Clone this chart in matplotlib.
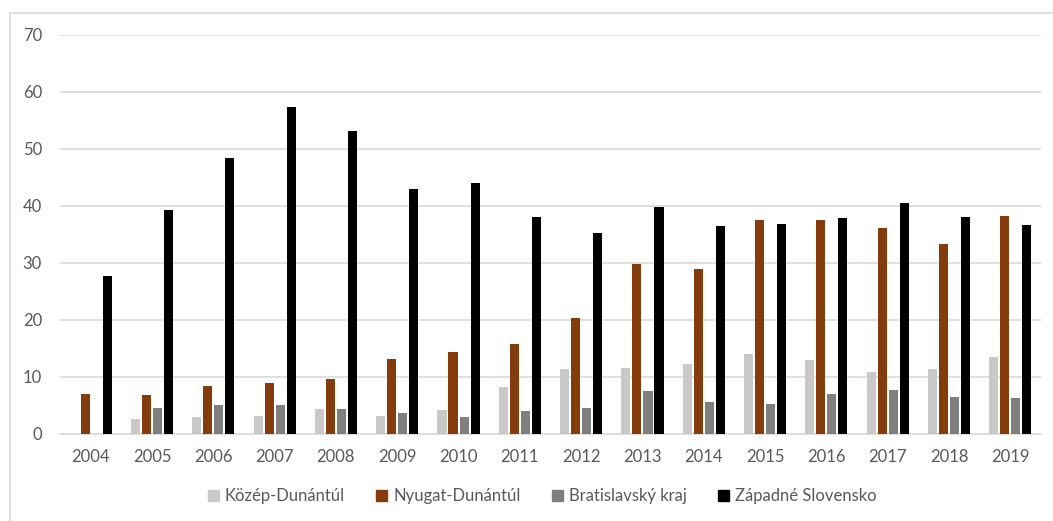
import matplotlib
matplotlib.use("Agg")
import matplotlib.pyplot as plt
import numpy as np
from matplotlib.lines import Line2D
from matplotlib.patches import Patch

years = ["2004", "2005", "2006", "2007", "2008", "2009", "2010", "2011",
         "2012", "2013", "2014", "2015", "2016", "2017", "2018", "2019"]
kozep_dunantul = [0, 2.6, 3.0, 3.2, 4.3, 3.2, 4.2, 8.2, 11.4, 11.6, 12.2, 14.1, 12.9, 10.9, 11.4, 13.5]
nyugat_dunantul = [7.0, 6.8, 8.4, 9.0, 9.7, 13.1, 14.3, 15.7, 20.4, 29.9, 28.9, 37.6, 37.6, 36.1, 33.3, 38.3]
bratislavsky = [0, 4.6, 5.1, 5.1, 4.3, 3.7, 2.9, 4.0, 4.6, 7.5, 5.6, 5.2, 7.1, 7.8, 6.5, 6.3]
zapadne = [27.7, 39.3, 48.4, 57.3, 53.2, 42.9, 44.1, 38.1, 35.2, 39.9, 36.4, 36.9, 37.8, 40.5, 38.1, 36.6]

series_names = ["Közép-Dunántúl", "Nyugat-Dunántúl", "Bratislavský kraj", "Západné Slovensko"]
series_values = [kozep_dunantul, nyugat_dunantul, bratislavsky, zapadne]
colors = ["#C9C9C9", "#843C0C", "#7F7F7F", "#000000"]

plt.rcParams['font.family'] = ['Lato', 'DejaVu Sans']

fig = plt.figure(figsize=(10.53, 5.21), dpi=100)
ax = fig.add_axes([0.057, 0.167, 0.9316, 0.766])

x = np.arange(len(years))
width = 0.148
step = 0.18
for i, (vals, c) in enumerate(zip(series_values, colors)):
    ax.bar(x + (i - 1.5) * step, vals, width=width, color=c, zorder=3)

ax.set_xlim(-0.5, len(years) - 0.5)
ax.set_ylim(0, 70)
ax.set_yticks(range(0, 71, 10))
ax.set_xticks(x)
ax.set_xticklabels(years)
ax.yaxis.grid(True, color="#D9D9D9", linewidth=1.2, zorder=0)
ax.set_axisbelow(True)
for s in ["top", "right", "left"]:
    ax.spines[s].set_visible(False)
ax.spines["bottom"].set_color("#D9D9D9")
ax.spines["bottom"].set_linewidth(1.2)
ax.tick_params(axis="both", length=0, labelsize=12, colors="#595959")
ax.tick_params(axis="x", pad=11)
ax.tick_params(axis="y", pad=13)

handles = [Patch(facecolor=c, edgecolor=c) for c in colors]
fig.legend(handles, series_names, loc="center", bbox_to_anchor=(0.515, 0.048),
           ncol=4, frameon=False, fontsize=12, labelcolor="#595959",
           handlelength=0.65, handleheight=0.65, handletextpad=0.35, columnspacing=1.9)

# outer chart frame (top and left visible)
fig.add_artist(Line2D([10 / 1053, 1.0], [1 - 13 / 521, 1 - 13 / 521],
                      transform=fig.transFigure, color="#D9D9D9", linewidth=1.2))
fig.add_artist(Line2D([10 / 1053, 10 / 1053], [0.0, 1 - 13 / 521],
                      transform=fig.transFigure, color="#D9D9D9", linewidth=1.2))

fig.savefig("out.png", dpi=100, facecolor="white")
